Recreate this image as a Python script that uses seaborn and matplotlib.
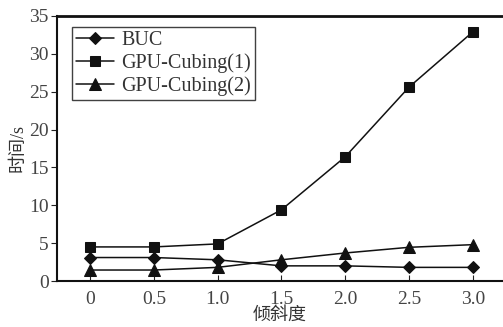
import matplotlib
matplotlib.use("Agg")
import matplotlib.pyplot as plt
import seaborn as sns
import pandas as pd

skew = [0, 0.5, 1.0, 1.5, 2.0, 2.5, 3.0]
buc = [3.1, 3.1, 2.8, 2.0, 2.0, 1.8, 1.8]
gpu1 = [4.5, 4.5, 4.9, 9.4, 16.4, 25.6, 32.9]
gpu2 = [1.45, 1.45, 1.8, 2.8, 3.7, 4.45, 4.8]
series_names = ["BUC", "GPU-Cubing(1)", "GPU-Cubing(2)"]
xtick_labels = ["0", "0.5", "1.0", "1.5", "2.0", "2.5", "3.0"]
yticks = [0, 5, 10, 15, 20, 25, 30, 35]

sns.set_style("ticks")
plt.rcParams['font.family'] = ['Liberation Serif', 'Noto Sans CJK SC']
plt.rcParams['axes.unicode_minus'] = False

fig = plt.figure(figsize=(5.03, 3.27), dpi=100)
ax = fig.add_axes([57/503, 46/327, 1 - 57/503, (281-16)/327])

markers = ["D", "s", "^"]
sizes = [6, 7, 8]
for vals, name, m, ms in zip([buc, gpu1, gpu2], series_names, markers, sizes):
    df = pd.DataFrame({"x": skew, "y": vals})
    sns.lineplot(data=df, x="x", y="y", ax=ax, color="#111111", marker=m,
                 markersize=ms, linewidth=1.1, label=name, markeredgecolor="#111111")

ax.set_xlim(-0.259, 3.237)
ax.set_ylim(0, 35)
ax.set_xticks(skew)
ax.set_xticklabels(xtick_labels)
ax.set_yticks(yticks)
ax.tick_params(axis="x", direction="in", length=4, labelsize=14, pad=7, colors="#222222")
ax.tick_params(axis="y", direction="out", length=4, labelsize=14, pad=2, colors="#222222")
for lab in ax.get_xticklabels() + ax.get_yticklabels():
    lab.set_color("#444444")

ax.spines["right"].set_visible(False)
ax.spines["top"].set_linewidth(2)
ax.spines["left"].set_linewidth(1.5)
ax.spines["bottom"].set_linewidth(1.5)
for s in ["top", "left", "bottom"]:
    ax.spines[s].set_color("#111111")

ax.set_xlabel("倾斜度", fontsize=13, labelpad=-1, color="#333333")
ax.set_ylabel("时间/s", fontsize=13, labelpad=2, color="#333333")

leg = ax.legend(loc="upper left", bbox_to_anchor=(0.034, 0.958), frameon=True,
                fancybox=False, edgecolor="#111111", fontsize=14.5, handlelength=1.9,
                handletextpad=0.35, borderpad=0.2, labelspacing=0.15, borderaxespad=0)
leg.get_frame().set_linewidth(1.0)
for t in leg.get_texts():
    t.set_color("#333333")

fig.savefig("out.png", dpi=100)
